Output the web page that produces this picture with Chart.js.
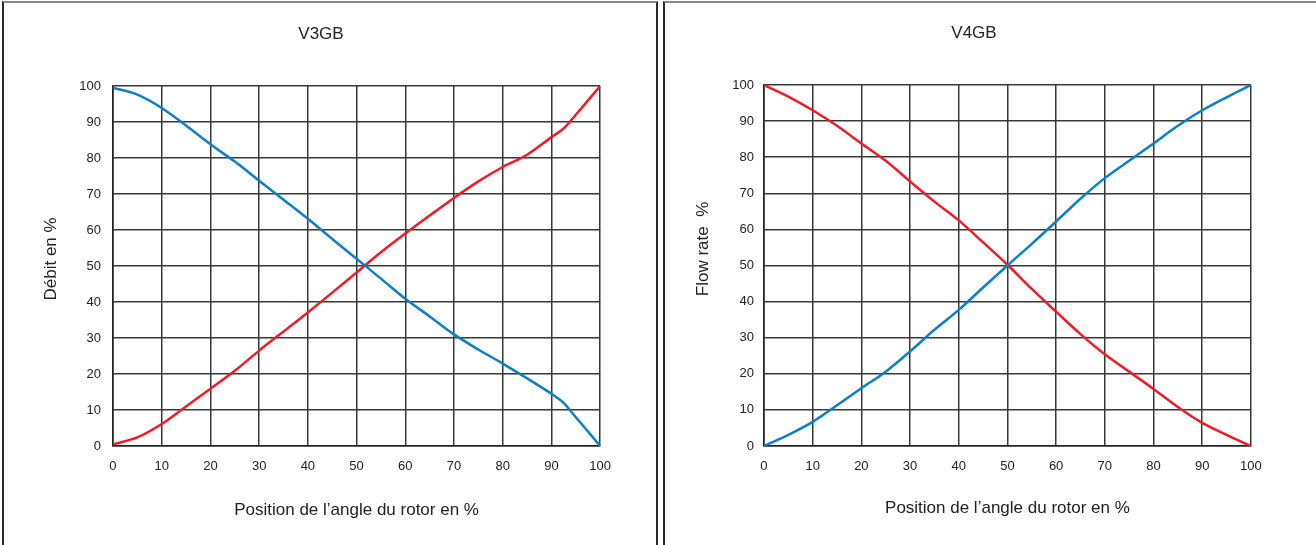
<!DOCTYPE html>
<html>
<head>
<meta charset="utf-8">
<script src="https://cdn.jsdelivr.net/npm/chart.js@4.4.0/dist/chart.umd.min.js"></script>
<style>
  html, body { margin: 0; padding: 0; background: #fff; }
  body { width: 1316px; height: 545px; position: relative; overflow: hidden; }
  .panel { position: absolute; top: 1px; height: 600px; box-sizing: border-box;
           border-top: 2px solid #888; border-left: 2px solid #2a2a2a; }
  #p1 { left: 2px; width: 656px; border-right: 2px solid #2a2a2a; }
  #p2 { left: 663px; width: 700px; }
  canvas { position: absolute; top: 0; }
  #c1 { left: 0; }
  #c2 { left: 660px; }
</style>
</head>
<body>
<div class="panel" id="p1"></div>
<div class="panel" id="p2"></div>
<canvas id="c1" width="624" height="545"></canvas>
<canvas id="c2" width="614" height="545"></canvas>
<script>
// V3GB
const v3Pos   = [0, 5, 10, 15, 20, 25, 30, 35, 40, 45, 50, 55, 60, 65, 70, 75, 80, 85, 90, 92.5, 95, 100];
const v3Blue  = [99.5, 97.6, 93.9, 89, 83.8, 79, 73.7, 68.4, 63.1, 57.5, 52, 46.5, 40.9, 36, 31, 26.8, 22.9, 18.8, 14.5, 12, 8, 0];
const v3Red   = [0.5, 2.4, 6.1, 11, 15.9, 20.9, 26.5, 31.8, 37.1, 42.6, 48.2, 53.8, 59, 64, 68.9, 73.5, 77.5, 80.9, 85.8, 88.2, 92, 100];

// V4GB
const v4Pos   = [0, 5, 10, 15, 20, 25, 30, 35, 40, 45, 50, 55, 60, 65, 70, 75, 80, 85, 90, 95, 100];
const v4Red   = [100, 96.8, 93, 88.7, 83.8, 79, 73.3, 67.7, 62.5, 56.4, 50.2, 43.5, 37.2, 31, 25.4, 20.6, 15.8, 10.8, 6.4, 3.1, 0];
const v4Blue  = [0, 3.1, 6.7, 11.3, 16, 20.6, 26.2, 32.2, 37.7, 43.9, 50, 56, 62.2, 68.5, 74.2, 79, 83.8, 88.7, 93, 96.6, 100];

const xTitle = "Position de l\u2019angle du rotor en %";
const BLUE = '#0a80c8';
const RED = '#ee1c25';
const FONT = '"Liberation Sans", Arial, sans-serif';

Chart.defaults.font.family = FONT;
Chart.defaults.color = '#222';

function pts(xs, ys) {
  return xs.map((x, i) => ({ x: x, y: ys[i] }));
}

function makeChart(id, title, yTitle, xs, blue, red, lay) {
  const gridStyle = { color: '#383838', lineWidth: 1.5, drawTicks: false };
  return new Chart(document.getElementById(id), {
    type: 'line',
    data: {
      datasets: [
        { data: pts(xs, blue), borderColor: BLUE, borderWidth: 2.5, pointRadius: 0, cubicInterpolationMode: 'monotone' },
        { data: pts(xs, red), borderColor: RED, borderWidth: 2.5, pointRadius: 0, cubicInterpolationMode: 'monotone' }
      ]
    },
    options: {
      responsive: false,
      animation: false,
      layout: { padding: { left: lay.padLeft, right: 0, top: 0, bottom: 0 } },
      plugins: {
        legend: { display: false },
        tooltip: { enabled: false },
        title: {
          display: true,
          text: title,
          color: '#222',
          font: { size: 17, weight: 'normal' },
          padding: { top: lay.titleTop, bottom: lay.titleBottom }
        }
      },
      scales: {
        x: {
          type: 'linear',
          min: 0, max: 100,
          ticks: { stepSize: 10, padding: lay.xTickPad, font: { size: 13 }, color: '#222' },
          grid: gridStyle,
          border: { color: '#222', width: 1.6 },
          title: { display: true, text: xTitle, color: '#222', font: { size: 17 },
                   padding: { top: lay.xTitleTop, bottom: lay.xTitleBottom } }
        },
        y: {
          min: 0, max: 100,
          ticks: { stepSize: 10, padding: lay.yTickPad, font: { size: 13 }, color: '#222' },
          grid: gridStyle,
          border: { color: '#222', width: 1.6 },
          title: { display: true, text: yTitle, color: '#222', font: { size: 17 },
                   padding: { top: lay.yTitleTop, bottom: lay.yTitleBottom } }
        }
      }
    }
  });
}

// leading spaces nudge the rotated titles up a little, like the original
makeChart('c1', 'V3GB', '   D\u00e9bit en %', v3Pos, v3Blue, v3Red, {
  padLeft: 18, titleTop: 23.8, titleBottom: 41.8,
  xTickPad: 13, xTitleTop: 12.2, xTitleBottom: 24.8,
  yTickPad: 12, yTitleTop: 22.8, yTitleBottom: 6.1
});

makeChart('c2', 'V4GB', '       Flow rate  %', v4Pos, v4Blue, v4Red, {
  padLeft: 14, titleTop: 22.8, titleBottom: 41.8,
  xTickPad: 12.3, xTitleTop: 11.6, xTitleBottom: 26.8,
  yTickPad: 10, yTitleTop: 18.8, yTitleBottom: 9.1
});
</script>
</body>
</html>
